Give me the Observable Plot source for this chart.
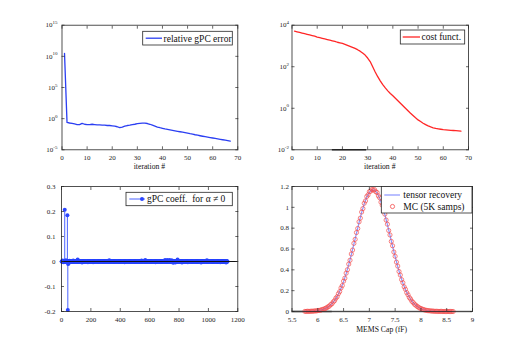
<!DOCTYPE html>
<html><head><meta charset="utf-8">
<script src="https://cdn.jsdelivr.net/npm/d3@7"></script>
<script src="https://cdn.jsdelivr.net/npm/@observablehq/plot@0.6"></script>
<style>
html,body{margin:0;padding:0;background:#fff;}
#wrap{position:relative;width:512px;height:340px;overflow:hidden;background:#fff;}
#wrap svg{position:absolute;left:0;top:0;}
</style></head><body><div id="wrap"></div>
<script>
// ---- data ----
const relErr = [3e10, 0.251, 0.2, 0.178, 0.141, 0.112, 0.112, 0.178, 0.126, 0.112,
  0.112, 0.126, 0.112, 0.1, 0.1, 0.089, 0.089, 0.079, 0.079, 0.071,
  0.063, 0.05, 0.035, 0.045, 0.063, 0.079, 0.089, 0.112, 0.126, 0.158,
  0.178, 0.19, 0.19, 0.166, 0.126, 0.089, 0.063, 0.045, 0.035, 0.028,
  0.022, 0.0186, 0.0158, 0.0132, 0.011, 0.0093, 0.0079, 0.0066, 0.0056, 0.0047,
  0.0038, 0.0032, 0.0026, 0.0022, 0.0018, 0.0015, 0.00126, 0.00107, 0.00091, 0.00078,
  0.00066, 0.00056, 0.00048, 0.00041, 0.00035, 0.0003, 0.00025];
const costFunct = [5130, 4790, 4470, 4170, 3890, 3630, 3390, 3160, 2950, 2690,
  2510, 2340, 2190, 2040, 1910, 1780, 1660, 1510, 1410, 1320,
  1200, 1070, 955, 851, 759, 661, 562, 457, 363, 263,
  178, 100, 56.2, 33.1, 20.9, 13.8, 9.55, 6.92, 5.13, 3.98,
  3.02, 2.29, 1.74, 1.32, 1.0, 0.759, 0.575, 0.447, 0.347, 0.275,
  0.229, 0.191, 0.162, 0.141, 0.126, 0.115, 0.107, 0.102, 0.0977, 0.0933,
  0.0912, 0.0891, 0.0871, 0.0851, 0.0832, 0.0813, 0.0794];

const nCoef = 1130;
const coefIdx = [22, 40, 43, 8, 15, 30, 45, 48, 55, 80, 110, 140, 180, 215, 325, 430, 545, 570, 640, 705, 720, 735, 750, 760, 775, 790, 820, 860, 950, 990, 1080, 1120];
const coefVal = [0.207, 0.185, -0.194, 0.004, -0.003, 0.005, -0.01, -0.008, 0.003, 0.004, 0.008, -0.004, -0.003, -0.003, 0.005, -0.003, 0.004, 0.006, -0.003, 0.006, 0.006, 0.006, 0.005, -0.005, -0.004, 0.008, -0.004, -0.003, -0.004, 0.005, -0.003, -0.004];

const pdfX = [5.75,5.8,5.85,5.9,5.95,6,6.05,6.1,6.15,6.2,6.25,6.3,6.35,6.4,6.45,6.5,6.55,6.6,6.65,6.7,
  6.75,6.8,6.85,6.9,6.95,7,7.05,7.1,7.15,7.2,7.25,7.3,7.35,7.4,7.45,7.5,7.55,7.6,7.65,7.7,
  7.75,7.8,7.85,7.9,7.95,8,8.05,8.1,8.15,8.2,8.25,8.3,8.35,8.4,8.45,8.5,8.55,8.6];
const pdfY = [0.0006,0.0011,0.0019,0.0031,0.0051,0.0083,0.013,0.020,0.030,0.044,
  0.064,0.090,0.124,0.168,0.222,0.287,0.363,0.450,0.546,0.647,
  0.751,0.854,0.949,1.033,1.099,1.145,1.168,1.165,1.138,1.088,
  1.017,0.931,0.834,0.731,0.627,0.526,0.432,0.347,0.273,0.210,
  0.158,0.117,0.084,0.059,0.041,0.028,0.018,0.012,0.0075,0.0047,
  0.003,0.0018,0.001,0.0006,0.0003,0.0002,0.0001,0.0001];

const mcX = [5.75,5.775,5.8,5.825,5.85,5.875,5.9,5.925,5.95,5.975,
  6,6.025,6.05,6.075,6.1,6.125,6.15,6.175,6.2,6.225,
  6.25,6.275,6.3,6.325,6.35,6.375,6.4,6.425,6.45,6.475,
  6.5,6.525,6.55,6.575,6.6,6.625,6.65,6.675,6.7,6.725,
  6.75,6.775,6.8,6.825,6.85,6.875,6.9,6.925,6.95,6.975,
  7,7.025,7.05,7.075,7.1,7.125,7.15,7.175,7.2,7.225,
  7.25,7.275,7.3,7.325,7.35,7.375,7.4,7.425,7.45,7.475,
  7.5,7.525,7.55,7.575,7.6,7.625,7.65,7.675,7.7,7.725,
  7.75,7.775,7.8,7.825,7.85,7.875,7.9,7.925,7.95,7.975,
  8,8.025,8.05,8.075,8.1,8.125,8.15,8.175,8.2,8.225,
  8.25,8.275,8.3,8.325,8.35,8.375,8.4,8.425,8.45,8.475,
  8.5,8.525,8.55,8.575,8.6,8.625];
const mcY = [0.001,0.001,0.002,0.001,0.002,0.003,0.003,0.004,0.006,0.006,
  0.009,0.011,0.012,0.017,0.021,0.024,0.031,0.036,0.046,0.052,
  0.066,0.074,0.092,0.104,0.127,0.142,0.171,0.191,0.226,0.249,
  0.291,0.320,0.368,0.401,0.455,0.492,0.552,0.590,0.654,0.693,
  0.758,0.797,0.861,0.896,0.955,0.988,1.039,1.062,1.104,1.120,
  1.150,1.155,1.172,1.166,1.170,1.150,1.142,1.110,1.092,1.050,
  1.021,0.971,0.935,0.878,0.838,0.777,0.735,0.673,0.631,0.571,
  0.530,0.474,0.436,0.384,0.350,0.306,0.276,0.237,0.213,0.181,
  0.160,0.134,0.119,0.098,0.086,0.070,0.061,0.049,0.042,0.033,
  0.029,0.022,0.019,0.014,0.012,0.009,0.008,0.006,0.005,0.004,
  0.003,0.002,0.002,0.001,0.001,0.001,0.001,0,0,0,
  0,0,0,0,0,0];

const iterTicks = [0, 10, 20, 30, 40, 50, 60, 70];
const errTicks = [1e-5, 1, 1e5, 1e10, 1e15];
const costTicks = [1e-2, 1, 1e2, 1e4];
const coefXTicks = [0, 200, 400, 600, 800, 1000, 1200];
const coefYTicks = [-0.2, -0.1, 0, 0.1, 0.2, 0.3];
const capXTicks = [5.5, 6, 6.5, 7, 7.5, 8, 8.5, 9];
const capYTicks = [0, 0.2, 0.4, 0.6, 0.8, 1, 1.2];

// ---- rendering ----
const W = 512, H = 340;
const FONT = "'Liberation Serif', 'Times New Roman', serif";
const INK = "#262626";
const BLUE = "#2b3ff2", RED = "#ff2626", MCRED = "#f44c4c";
const wrap = document.getElementById("wrap");

const style = () => ({background: "transparent", fontFamily: FONT, fontSize: "7px", color: INK, overflow: "visible"});
const logFmt = d => "10^" + Math.round(Math.log10(d));
const numFmt = d => String(d);

function axes(xTicks, yTicks, xFmt, yFmt, yPad) {
  return [
    Plot.axisX(xTicks, {anchor: "bottom", tickSize: -3, tickPadding: 8.5, tickFormat: xFmt, label: null, color: INK, strokeWidth: 0.7, fontFamily: FONT}),
    Plot.axisX(xTicks, {anchor: "top", tickSize: -3, tickFormat: () => "", label: null, color: INK, strokeWidth: 0.7}),
    Plot.axisY(yTicks, {anchor: "left", tickSize: -3, tickPadding: yPad, tickFormat: yFmt, label: null, color: INK, strokeWidth: 0.7, fontFamily: FONT}),
    Plot.axisY(yTicks, {anchor: "right", tickSize: -3, tickFormat: () => "", label: null, color: INK, strokeWidth: 0.7}),
    Plot.frame({stroke: INK, strokeWidth: 0.8})
  ];
}

function supers(svg) {
  d3.select(svg).selectAll("text").each(function () {
    const m = /^10\^(-?\d+)$/.exec(this.textContent);
    if (m) {
      this.textContent = "10";
      d3.select(this).append("tspan").attr("dy", "-3.2").attr("font-size", "5px").text(m[1]);
    }
  });
}

function addLegend(svg, box, rows, fs) {
  const g = d3.select(svg).append("g").attr("font-family", FONT).attr("font-size", fs).attr("text-anchor", "start");
  g.append("rect").attr("x", box[0]).attr("y", box[1]).attr("width", box[2] - box[0]).attr("height", box[3] - box[1])
    .attr("fill", "#fff").attr("stroke", INK).attr("stroke-width", 0.8);
  for (const r of rows) {
    if (r.line) g.append("line").attr("x1", r.line[0]).attr("x2", r.line[1]).attr("y1", r.y).attr("y2", r.y)
      .attr("stroke", r.color).attr("stroke-width", r.lw || 1.3);
    if (r.dot) g.append("circle").attr("cx", r.dot).attr("cy", r.y).attr("r", r.r || 2)
      .attr("fill", r.dotFill || "none").attr("stroke", r.dotStroke || "none").attr("stroke-width", 0.8);
    g.append("text").attr("x", r.tx).attr("y", r.y).attr("dy", "0.35em").attr("fill", "#111")
      .attr("text-anchor", "start").style("white-space", "pre").style("font-family", FONT).text(r.label);
  }
}

function addLabel(svg, x, y, text) {
  d3.select(svg).append("text").attr("x", x).attr("y", y).attr("dy", "0.35em").attr("text-anchor", "middle")
    .attr("font-family", FONT).attr("font-size", 7.7).attr("fill", "#111").text(text);
}

// Top-left: relative gPC error
const p1 = Plot.plot({
  width: W, height: H, marginLeft: 61.5, marginRight: W - 237.3, marginTop: 24.7, marginBottom: H - 149.3,
  style: style(),
  x: {domain: [0, 70]},
  y: {type: "log", domain: [1e-5, 1e15]},
  marks: [
    Plot.line(relErr, {x: (d, i) => i + 1, y: d => d, stroke: BLUE, strokeWidth: 1.3}),
    ...axes(iterTicks, errTicks, numFmt, logFmt, 7.5)
  ]
});

// Top-right: cost function
const p2 = Plot.plot({
  width: W, height: H, marginLeft: 291.5, marginRight: W - 468, marginTop: 24.7, marginBottom: H - 149.3,
  style: style(),
  x: {domain: [0, 70]},
  y: {type: "log", domain: [1e-2, 1e4]},
  marks: [
    Plot.ruleY([1e-2], {x1: 16, x2: 29.6, stroke: INK, strokeWidth: 1.6}),
    Plot.line(costFunct, {x: (d, i) => i + 1, y: d => d, stroke: RED, strokeWidth: 1.3}),
    ...axes(iterTicks, costTicks, numFmt, logFmt, 6)
  ]
});

// Bottom-left: gPC coefficients (stem)
const coefs = Array.from({length: nCoef}, (_, i) => ({i: i + 1, v: 0}));
coefIdx.forEach((k, j) => { coefs[k - 1].v = coefVal[j]; });
const p3 = Plot.plot({
  width: W, height: H, marginLeft: 61, marginRight: W - 237.3, marginTop: 186, marginBottom: H - 311,
  style: style(),
  x: {domain: [0, 1200]},
  y: {domain: [-0.2, 0.3]},
  marks: [
    Plot.ruleX(coefs.filter(d => d.v !== 0), {x: "i", y1: 0, y2: "v", stroke: "#4a62ff", strokeWidth: 1}),
    Plot.dot(coefs, {x: "i", y: "v", r: 2, fill: "#2a45ff", stroke: null}),
    Plot.ruleY([0], {stroke: "#111", strokeWidth: 1}),
    ...axes(coefXTicks, coefYTicks, numFmt, numFmt, 9)
  ]
});

// Bottom-right: PDF of MEMS capacitance
const pdf = pdfX.map((x, i) => ({x, y: pdfY[i]}));
const mc = mcX.map((x, i) => ({x, y: mcY[i]}));
const p4 = Plot.plot({
  width: W, height: H, marginLeft: 291.5, marginRight: W - 472, marginTop: 186, marginBottom: H - 311,
  style: style(),
  x: {domain: [5.5, 9]},
  y: {domain: [0, 1.2]},
  marks: [
    Plot.ruleY([0], {stroke: "#dcdcdc", strokeWidth: 3}),
    Plot.ruleY([0], {x1: 5.5, x2: 6.28, stroke: "#9a9a9a", strokeWidth: 2}),
    Plot.line(pdf, {x: "x", y: "y", stroke: "#8a95ff", strokeWidth: 1.2}),
    Plot.dot(mc, {x: "x", y: "y", r: 2.1, stroke: MCRED, fill: "none", strokeWidth: 0.7}),
    ...axes(capXTicks, capYTicks, numFmt, numFmt, 6)
  ]
});

for (const p of [p1, p2, p3, p4]) { supers(p); wrap.appendChild(p); }

addLabel(p1, 149.4, 166, "iteration #");
addLabel(p2, 379.8, 166.5, "iteration #");
addLabel(p4, 381.7, 329, "MEMS Cap (fF)");

addLegend(p1, [142.7, 31.3, 232.3, 45], [{y: 38.2, line: [145.7, 162], color: BLUE, tx: 163.5, label: "relative gPC error"}], 9.5);
addLegend(p2, [400.3, 30, 464.7, 44], [{y: 37, line: [402.7, 420], color: RED, tx: 421.5, label: "cost funct."}], 9.5);
addLegend(p3, [126, 192.3, 232.3, 205.7], [{y: 199, line: [129.3, 145], color: "#4a62ff", lw: 1, dot: 142, dotFill: "#2a45ff", label: "gPC coeff.  for α ≠ 0", tx: 147}], 9.5);
addLegend(p4, [381.3, 186.5, 472, 213], [
  {y: 195, line: [384.3, 400], color: "#8a95ff", lw: 1.2, tx: 403.3, label: "tensor recovery"},
  {y: 206.5, dot: 392.5, r: 2.1, dotStroke: MCRED, tx: 403.3, label: "MC (5K samps)"}
], 9.5);
</script>
</body></html>
